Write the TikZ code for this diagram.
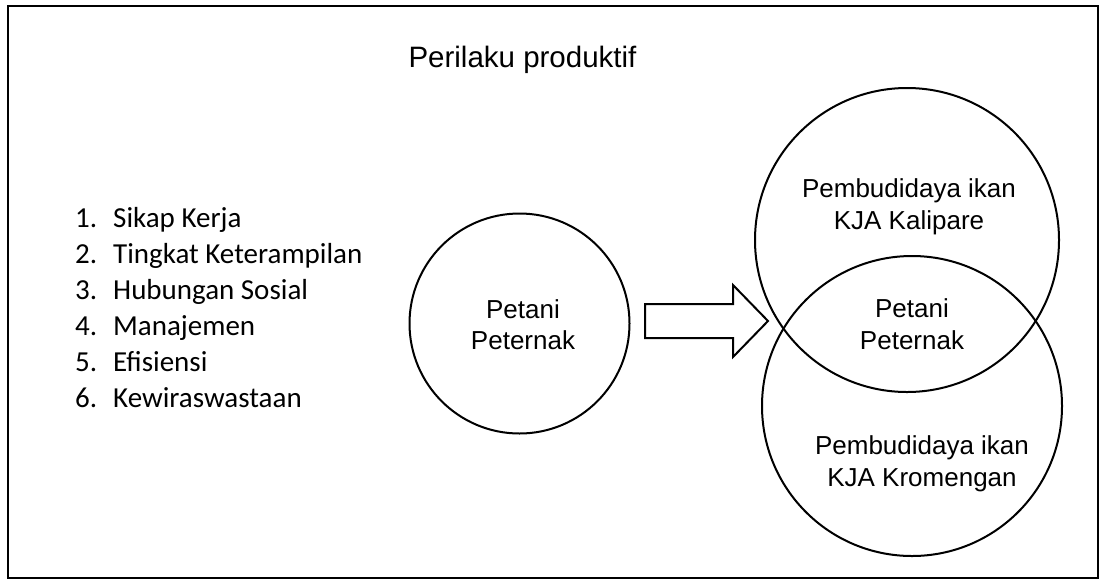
\documentclass[tikz,border=0pt]{standalone}
\usepackage{fontspec}
\setmainfont{Liberation Sans}
\newfontfamily\calibrifont{Carlito}
\begin{document}
\begin{tikzpicture}[x=1pt,y=-1pt,
  frameline/.style={draw=black, line width=2.5pt},
  shapeline/.style={draw=black, line width=2pt},
  ring/.style={circle, shapeline, inner sep=0pt},
  arialtext/.style={font=\fontsize{26}{31.5}\selectfont, align=center, inner sep=0pt},
  listitem/.style={font=\calibrifont\fontsize{29}{36}\selectfont, anchor=base west, inner sep=0pt},
]
\useasboundingbox (0,0) rectangle (1102,582);
\draw[frameline] (8,6) rectangle (1098,578);

\node[font=\fontsize{29.5}{35}\selectfont, anchor=base, inner sep=0pt] (title) at (522.5,67) {Perilaku produktif};

\foreach \n/\t [count=\i] in {1/Sikap Kerja, 2/Tingkat Keterampilan, 3/Hubungan Sosial, 4/Manajemen, 5/Efisiensi, 6/Kewiraswastaan}
  \node[listitem] (item\i) at (75,{191+36*\i}) {\makebox[38pt][l]{\n.}\t};

\node[ring, minimum size=220pt] (pp) at (519.5,323.5) {};
\node[arialtext] (pptext) at (523,324.7) {Petani\\Peternak};

\node[ring, minimum size=304pt] (kal) at (907,240) {};
\node[ring, minimum size=300pt] (krom) at (912,406) {};

\node[arialtext] (kaltext) at (909,207) {Pembudidaya ikan\\KJA Kalipare};
\node[arialtext] (midtext) at (912,324) {Petani\\Peternak};
\node[arialtext] (kromtext) at (922,464) {Pembudidaya ikan\\KJA Kromengan};

\draw[shapeline, line join=miter] (645,304) -- (733,304) -- (733,285) -- (768,321) -- (733,357) -- (733,338) -- (645,338) -- cycle;
\end{tikzpicture}
\end{document}
